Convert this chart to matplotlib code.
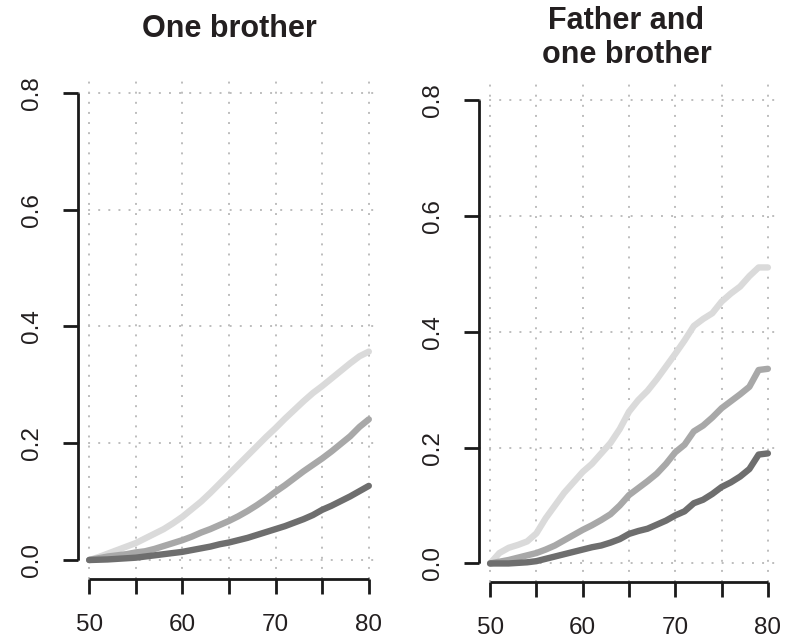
import numpy as np
import matplotlib
matplotlib.use("Agg")
import matplotlib.pyplot as plt

plt.rcParams["font.family"] = ["Liberation Sans", "DejaVu Sans"]

ages = list(range(50, 81))

# Cumulative risk by age, one brother affected
one_brother_high = [0.000, 0.005, 0.011, 0.017, 0.023, 0.029, 0.037, 0.045, 0.053, 0.063,
                    0.074, 0.087, 0.100, 0.115, 0.131, 0.147, 0.163, 0.179, 0.195, 0.211,
                    0.226, 0.242, 0.257, 0.272, 0.286, 0.298, 0.311, 0.324, 0.337, 0.349, 0.357]
one_brother_mid = [0.000, 0.003, 0.006, 0.008, 0.010, 0.013, 0.015, 0.019, 0.024, 0.029,
                   0.034, 0.040, 0.047, 0.053, 0.060, 0.067, 0.075, 0.084, 0.094, 0.105,
                   0.117, 0.128, 0.140, 0.152, 0.163, 0.174, 0.186, 0.199, 0.212, 0.228, 0.241]
one_brother_low = [0.000, 0.0005, 0.001, 0.002, 0.003, 0.004, 0.006, 0.008, 0.010, 0.012,
                   0.014, 0.017, 0.020, 0.023, 0.027, 0.030, 0.034, 0.038, 0.043, 0.048,
                   0.053, 0.058, 0.064, 0.070, 0.077, 0.086, 0.093, 0.101, 0.109, 0.118, 0.127]

# Cumulative risk by age, father and one brother affected
father_brother_high = [0.000, 0.018, 0.027, 0.032, 0.038, 0.052, 0.078, 0.100, 0.122, 0.140,
                       0.158, 0.172, 0.190, 0.208, 0.232, 0.262, 0.282, 0.298, 0.318, 0.340,
                       0.362, 0.385, 0.410, 0.422, 0.432, 0.452, 0.466, 0.478, 0.496, 0.511, 0.511]
father_brother_mid = [0.000, 0.003, 0.006, 0.010, 0.014, 0.018, 0.024, 0.031, 0.040, 0.049,
                      0.058, 0.066, 0.075, 0.085, 0.100, 0.118, 0.130, 0.142, 0.155, 0.172,
                      0.192, 0.205, 0.228, 0.238, 0.252, 0.268, 0.280, 0.292, 0.305, 0.334, 0.336]
father_brother_low = [0.000, 0.000, 0.000, 0.001, 0.002, 0.004, 0.008, 0.012, 0.016, 0.020,
                      0.024, 0.028, 0.031, 0.036, 0.042, 0.051, 0.056, 0.060, 0.067, 0.074,
                      0.083, 0.090, 0.104, 0.110, 0.120, 0.132, 0.140, 0.150, 0.163, 0.188, 0.190]

x_ticks = [50, 55, 60, 65, 70, 75, 80]
x_labels = ["50", "", "60", "", "70", "", "80"]
y_ticks = [0.0, 0.2, 0.4, 0.6, 0.8]
y_labels = ["0.0", "0.2", "0.4", "0.6", "0.8"]

colors = ["#dadada", "#a8a8a8", "#6e6e6e"]
text_color = "#231f20"

W, H = 802, 643
fig = plt.figure(figsize=(W / 100, H / 100), dpi=100)

def px_axes(left, right, top, bottom):
    return [left / W, 1 - bottom / H, (right - left) / W, (bottom - top) / H]

ax1 = fig.add_axes(px_axes(78, 380, 74.3, 578.7))
ax2 = fig.add_axes(px_axes(479, 779, 81.5, 582))

panels = [
    (ax1, [one_brother_high, one_brother_mid, one_brother_low]),
    (ax2, [father_brother_high, father_brother_mid, father_brother_low]),
]

for ax, series in panels:
    ax.set_xlim(48.8, 81.2)
    ax.set_ylim(-0.032, 0.832)
    for x in x_ticks:
        ax.axvline(x, color="#bdbdbd", lw=1.4, linestyle=(0, (1, 4.2)), zorder=1)
    for y in y_ticks:
        ax.axhline(y, color="#bdbdbd", lw=1.4, linestyle=(0, (1, 4.2)), zorder=1)
    for vals, c in zip(series, colors):
        ax.plot(ages, vals, color=c, lw=4.6, solid_capstyle="round",
                solid_joinstyle="round", zorder=3)
    for s in ("top", "right"):
        ax.spines[s].set_visible(False)
    ax.spines["left"].set_bounds(0.0, 0.8)
    ax.spines["bottom"].set_bounds(50, 80)
    for s in ("left", "bottom"):
        ax.spines[s].set_linewidth(2.0)
        ax.spines[s].set_color("#1a1a1a")
        ax.spines[s].set_capstyle("butt")
    ax.set_xticks(x_ticks)
    ax.set_xticklabels(x_labels)
    ax.set_yticks(y_ticks)
    ax.set_yticklabels(y_labels, rotation=90, va="center")
    ax.tick_params(direction="out", length=10.8, width=2.0, color="#1a1a1a",
                   pad=14.4, labelsize=17.5, labelcolor=text_color)
    ax.set_facecolor("none")

fig.text(229.5 / W, 1 - 37 / H, "One brother", ha="center", va="baseline",
         fontsize=22, fontweight="bold", color=text_color)
fig.text(626.5 / W, 1 - 29 / H, "Father and", ha="center", va="baseline",
         fontsize=22, fontweight="bold", color=text_color)
fig.text(626.5 / W, 1 - 63 / H, "one brother", ha="center", va="baseline",
         fontsize=22, fontweight="bold", color=text_color)

fig.savefig("out.png", dpi=100, facecolor="white")
